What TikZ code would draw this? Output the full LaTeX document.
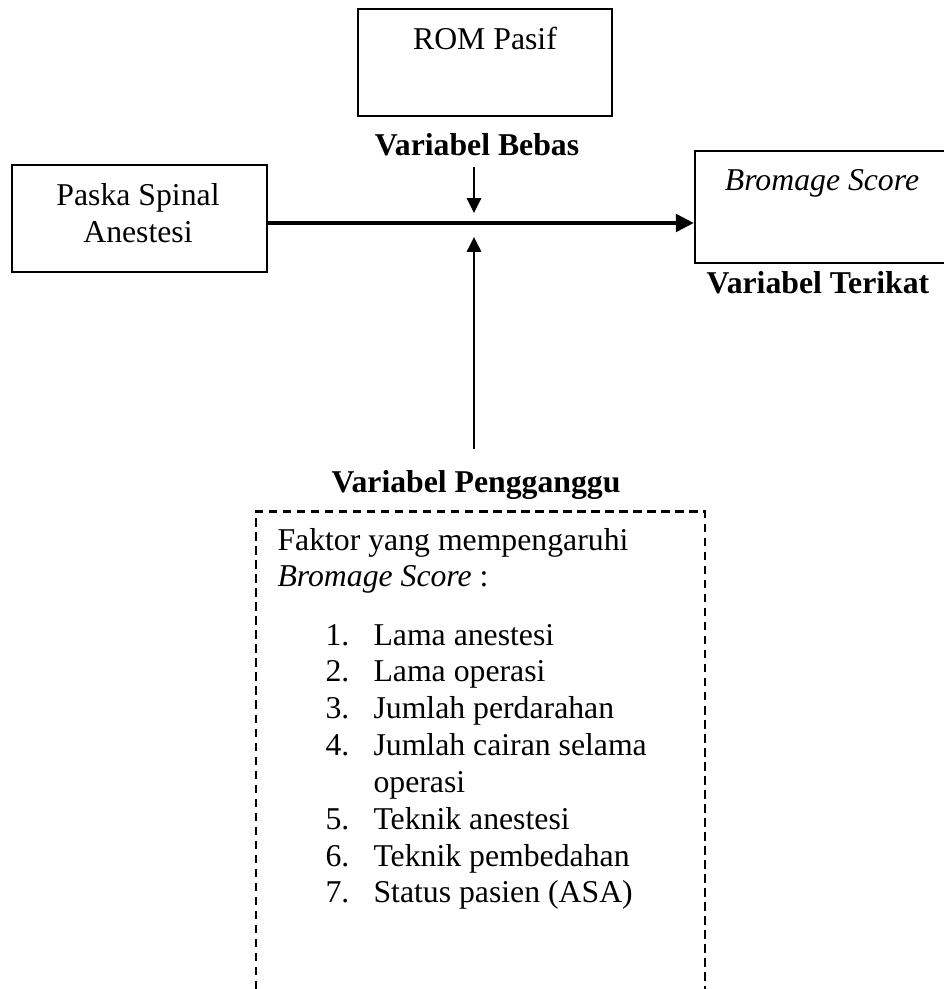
\documentclass[tikz,border=0pt]{standalone}
\usepackage{fontspec}
\setmainfont{Liberation Serif}
\usetikzlibrary{arrows.meta,positioning}
\tikzset{
  txt/.style={font=\fontsize{12}{13.9}\selectfont,inner sep=0pt},
  hdr/.style={font=\fontsize{12}{13.9}\selectfont\bfseries,inner sep=0pt},
  boxNode/.style={draw,line width=0.9pt,inner sep=0pt,fill=none},
  dashBox/.style={draw,line width=0.9pt,dash pattern=on 3.2pt off 2.1pt,inner sep=0pt},
  thinflow/.style={-{Triangle[length=5.6pt,width=5.4pt]},line width=0.8pt},
  mainflow/.style={-{Triangle[length=6.8pt,width=6.6pt]},line width=1.5pt},
}
\begin{document}
\begin{tikzpicture}[x=0.378pt,y=-0.378pt]
\useasboundingbox (0,0) rectangle (944,989);
\clip (0,0) rectangle (944,989);

% boxes
\node[boxNode,minimum width=96pt,minimum height=40.4pt] (rom) at (485,62.5) {};
\node[boxNode,minimum width=96.4pt,minimum height=40.4pt] (paska) at (139.5,218.5) {};
\node[boxNode,minimum width=96.4pt,minimum height=42.3pt] (bromage) at (822.5,207) {};
\node[dashBox,minimum width=169.7pt,minimum height=188pt] (faktor) at (480.5,760) {};

% labels
\node[txt,anchor=base] (romTxt) at (485,50) {ROM Pasif};
\node[hdr,anchor=base] (bebas) at (477,155) {Variabel Bebas};
\node[txt,anchor=base] (paskaTxt) at (138,205) {Paska Spinal};
\node[txt,anchor=base] (paskaTxtB) at (138,242) {Anestesi};
\node[txt,anchor=base] (bromageTxt) at (822,191) {\textit{Bromage Score}};
\node[hdr,anchor=base] (terikat) at (818,293) {Variabel Terikat};
\node[hdr,anchor=base] (ganggu) at (476,492) {Variabel Pengganggu};

% contents of the dashed box
\node[txt,anchor=base west] (faktorTxt) at (277,550) {Faktor yang mempengaruhi};
\node[txt,anchor=base west] (faktorTxtB) at (277,586.7) {\textit{Bromage Score} :};
\foreach \n/\l/\t in {1/0/{Lama anestesi},2/1/{Lama operasi},3/2/{Jumlah perdarahan},
    4/3/{Jumlah cairan selama},5/5/{Teknik anestesi},6/6/{Teknik pembedahan},
    7/7/{Status pasien (ASA)}} {
  \node[txt,anchor=base west] (num\n) at (325,645+36.85*\l) {\n.};
  \node[txt,anchor=base west] (item\n) at (373,645+36.85*\l) {\t};
}
\node[txt,anchor=base west] (item4b) at (373,645+36.85*4) {operasi};

% arrows
\coordinate (junc) at (474,223);
\draw[mainflow] (paska.east |- junc) -- (bromage.west |- junc);
\draw[thinflow] ([yshift=-4.2pt]bebas.south -| junc) -- ([yshift=3.8pt]junc);
\draw[thinflow] ([yshift=7.8pt]ganggu.north -| junc) -- ([yshift=-5.3pt]junc);

\end{tikzpicture}
\end{document}
